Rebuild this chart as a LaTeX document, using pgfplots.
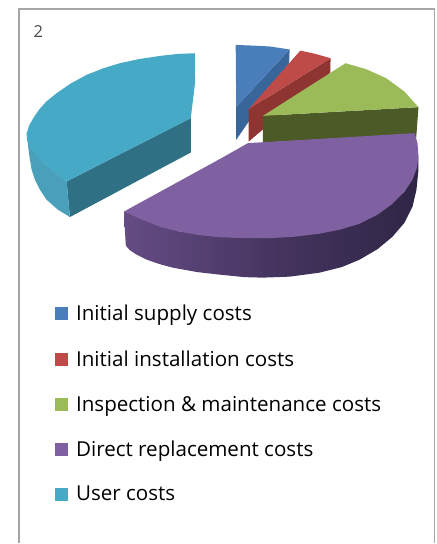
\documentclass[border=0pt]{standalone}
\usepackage{pgfplots}
\pgfplotsset{compat=1.18}
\usepackage{fontspec}
\setmainfont{Open Sans}
\definecolor{cBlue}{HTML}{4A7EBB}
\definecolor{cBlueD}{HTML}{38659A}
\definecolor{cRed}{HTML}{BE4B48}
\definecolor{cRedD}{HTML}{8E3532}
\definecolor{cGreen}{HTML}{9BBB59}
\definecolor{cGreenD}{HTML}{4B5A27}
\definecolor{cPurple}{HTML}{7F60A0}
\definecolor{cPurpleL}{HTML}{654C85}
\definecolor{cPurpleM}{HTML}{463560}
\definecolor{cPurpleD}{HTML}{2F2545}
\definecolor{cCyan}{HTML}{46A9C6}
\definecolor{cCyanS}{HTML}{4AA0BA}
\definecolor{cCyanD}{HTML}{2F7084}
\begin{document}
\begin{tikzpicture}
\begin{axis}[
  scale only axis, width=437pt, height=544pt,
  xmin=0, xmax=437, ymin=0, ymax=544, y dir=reverse,
  axis lines=none, no markers, clip=false,
  legend style={at={(axis cs:55,303.5)}, anchor=north west, draw=none, fill=none,
    font=\fontsize{20.6}{22}\selectfont, row sep=24.25pt, inner sep=0pt,
    nodes={inner sep=2pt}},
  legend cell align=left,
  legend image code/.code={\fill[#1] (0pt,-6.5pt) rectangle (13pt,6.5pt);\path (19pt,0pt);},
]
% page and frame
\addplot[forget plot, draw=none, fill=white] coordinates {(0,0)(437,0)(437,544)(0,544)} -- cycle;
\addplot[forget plot, draw={rgb,255:red,165;green,165;blue,165}, line width=1.4pt] coordinates {(19,544)(19,9)(435,9)(435,544)};
% sides
\addplot[forget plot, draw=none, fill=cBlueD] coordinates {(290,49.5)(289.5,63)(236.5,140)(236.5,107)} -- cycle;
\addplot[forget plot, draw=none, fill=cRedD] coordinates {(331,58.3)(330.7,72.7)(249,141.7)(249,109.3)} -- cycle;
\addplot[forget plot, draw=none, fill=cGreenD] coordinates {(263.3,116)(419,107.3)(416.7,138.3)(263.3,142.3)} -- cycle;
\addplot[forget plot, draw=none, left color=cPurpleL, right color=cPurpleD, middle color=cPurpleM] coordinates {(124.3,211.7)(125,230)(126,246)(130,250.5)(136,254.5)(147,260)(160,264.5)(173,268)(198,272.5)(220,275)(245,277.5)(263,278)(290,277)(320,273)(342,267.5)(360,260)(378,249.5)(393,237)(405,223)(413,207)(417,190)(419,170)(419,156)(405,192)(360,224)(270,238.5)(180,232)} -- cycle;
\addplot[forget plot, draw=none, fill=cCyanD] coordinates {(66.7,181.7)(191,118.3)(191,152.7)(70,217.3)} -- cycle;
\addplot[forget plot, draw=none, fill=cCyanS] coordinates {(26.7,131.7)(28,145)(29.5,157)(31.7,170)(35,180)(40,190)(46.7,200)(58,210)(70,217.3)(66.7,181.7)(43.3,163.3)(30,146.7)} -- cycle;
% top faces (legend series)
\addplot[draw=none, fill=cBlue] coordinates {(236,45)(250,45.5)(270,46.5)(290,49.5)(236.5,107)} -- cycle;
\addlegendentry{Initial supply costs}
\addplot[draw=none, fill=cRed] coordinates {(300.7,50.7)(316,54)(331,58.3)(249,109.3)} -- cycle;
\addlegendentry{Initial installation costs}
\addplot[draw=none, fill=cGreen] coordinates {(346,63.3)(366.7,69.3)(386.7,78.3)(405,91.7)(419,107.3)(263.3,116)} -- cycle;
\addlegendentry{Inspection \& maintenance costs}
\addplot[draw=none, fill=cPurple] coordinates {(415,133.3)(418,143)(419,156)(417.5,168)(413,180)(405,192)(393,204)(378,215)(360,224)(340,230)(320,234)(295,237)(270,238.5)(245,238.5)(220,237.5)(200,235.5)(180,232)(160,227)(140,219)(124.3,211.7)(220,159.3)(248.3,143.3)} -- cycle;
\addlegendentry{Direct replacement costs}
\addplot[draw=none, fill=cCyan] coordinates {(195,53.3)(178,54)(160,56)(140,59)(120,63.3)(103,68.5)(86.7,75)(71,83.5)(56.7,93.3)(46,102)(39,110)(33.5,118)(29,126)(26.7,134)(27,140)(30,146.7)(36,155)(43.3,163.3)(54,172)(66.7,181.7)(191,118.3)(195.3,83)} -- cycle;
\addlegendentry{User costs}
\node[anchor=center, text={rgb,255:red,75;green,75;blue,75}, font=\fontsize{16.5}{18}\selectfont] at (axis cs:38.5,32) {2};
\end{axis}
\end{tikzpicture}
\end{document}
